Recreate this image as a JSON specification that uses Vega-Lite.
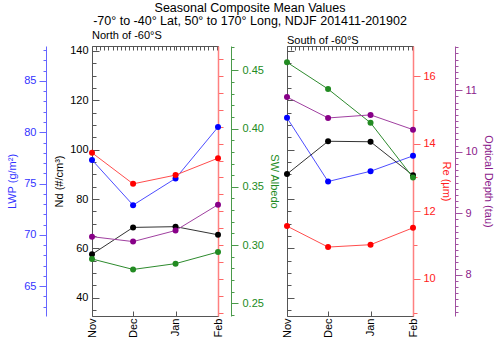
{
  "$schema": "https://vega.github.io/schema/vega-lite/v6.json",
  "padding": {"left": 6, "right": 3, "top": 2, "bottom": 1},
  "background": "white",
  "title": {
    "text": ["Seasonal Composite Mean Values", "-70° to -40° Lat, 50° to 170° Long, NDJF 201411-201902"],
    "fontSize": 12.5,
    "fontWeight": "normal",
    "font": "Liberation Sans",
    "color": "black",
    "anchor": "middle",
    "lineHeight": 13,
    "offset": 2
  },
  "datasets": {
    "north": [
      {"month": "2014-11-01T00:00:00", "lwp": 77.3, "nd": 57.6, "albedo": 0.288, "re": 13.73, "tau": 8.62},
      {"month": "2014-12-01T00:00:00", "lwp": 72.9, "nd": 68.5, "albedo": 0.279, "re": 12.81, "tau": 8.54},
      {"month": "2015-01-01T00:00:00", "lwp": 75.5, "nd": 68.8, "albedo": 0.284, "re": 13.07, "tau": 8.72},
      {"month": "2015-02-01T00:00:00", "lwp": 80.5, "nd": 65.5, "albedo": 0.294, "re": 13.57, "tau": 9.14}
    ],
    "south": [
      {"month": "2014-11-01T00:00:00", "lwp": 81.4, "nd": 90.1, "albedo": 0.457, "re": 11.56, "tau": 10.89},
      {"month": "2014-12-01T00:00:00", "lwp": 75.2, "nd": 103.4, "albedo": 0.434, "re": 10.94, "tau": 10.55},
      {"month": "2015-01-01T00:00:00", "lwp": 76.2, "nd": 103.2, "albedo": 0.405, "re": 11.01, "tau": 10.6},
      {"month": "2015-02-01T00:00:00", "lwp": 77.7, "nd": 89.6, "albedo": 0.358, "re": 11.51, "tau": 10.36}
    ]
  },
  "bounds": "flush",
  "spacing": 69,
  "hconcat": [
    {
      "width": 126,
      "height": 270,
      "data": {"name": "north"},
      "title": {"text": "North of -60°S", "anchor": "start", "frame": "group", "fontSize": 11, "fontWeight": "normal", "offset": 0, "color": "black"},
      "layer": [
        {
          "mark": {"type": "line", "color": "#4d4dff", "strokeWidth": 1, "point": {"filled": true, "size": 36, "color": "#0000ff"}},
          "encoding": {
            "x": {"field": "month", "type": "temporal", "scale": {"nice": false},
              "axis": {"orient": "top", "title": null, "labels": false, "domain": false, "tickCount": {"interval": "day", "step": 3}, "tickSize": -4, "tickColor": "#555", "grid": false}},
            "y": {"field": "lwp", "type": "quantitative", "scale": {"domain": [62.1, 88.4], "nice": false, "zero": false},
              "axis": {"orient": "left", "offset": 46, "title": "LWP (g/m²)", "titleColor": "#3333ff", "titleFontSize": 11, "titlePadding": 6,
                "values": [63,64,65,66,67,68,69,70,71,72,73,74,75,76,77,78,79,80,81,82,83,84,85,86,87,88], "tickCount": 200,
                "labelExpr": "datum.value % 5 == 0 ? datum.label : ''", "format": "d", "labelOverlap": false,
                "tickSize": 7, "tickDash": {"condition": {"test": "datum.value % 5 == 0", "value": []}, "value": [3, 20]},
                "tickColor": "#6666ff", "domainColor": "#6666ff", "labelColor": "#3333ff", "labelPadding": 3, "grid": false}}
          }
        },
        {
          "mark": {"type": "line", "color": "#333333", "strokeWidth": 1, "point": {"filled": true, "size": 36, "color": "black"}},
          "encoding": {
            "x": {"field": "month", "type": "temporal", "scale": {"nice": false},
              "axis": {"orient": "bottom", "title": null, "format": "%b", "tickCount": {"interval": "month"}, "labelAngle": -90, "tickSize": -5, "labelPadding": 7, "domain": false, "tickColor": "#555", "labelColor": "black", "grid": false, "labelOverlap": false}},
            "y": {"field": "nd", "type": "quantitative", "scale": {"domain": [32.6, 142], "nice": false, "zero": false},
              "axis": {"orient": "left", "title": "Nd (#/cm³)", "titleColor": "black", "titleFontSize": 11, "titlePadding": 5,
                "values": [35,40,45,50,55,60,65,70,75,80,85,90,95,100,105,110,115,120,125,130,135,140], "tickCount": 200,
                "labelExpr": "datum.value % 20 == 0 ? datum.label : ''", "format": "d", "labelOverlap": false,
                "tickSize": -7, "tickDash": {"condition": {"test": "datum.value % 20 == 0", "value": []}, "value": [4, 20]},
                "tickColor": "#555", "domain": false, "labelColor": "black", "labelPadding": 11, "grid": false}}
          }
        },
        {
          "mark": {"type": "line", "color": "#2e8b2e", "strokeWidth": 1, "point": {"filled": true, "size": 36, "color": "#228b22"}},
          "encoding": {
            "x": {"field": "month", "type": "temporal", "scale": {"nice": false}, "axis": null},
            "y": {"field": "albedo", "type": "quantitative", "scale": {"domain": [0.239, 0.471], "nice": false, "zero": false},
              "axis": {"orient": "right", "offset": 13, "title": "SW Albedo", "titleColor": "#228b22", "titleFontSize": 11, "titlePadding": 5,
                "values": [0.24,0.25,0.26,0.27,0.28,0.29,0.3,0.31,0.32,0.33,0.34,0.35,0.36,0.37,0.38,0.39,0.4,0.41,0.42,0.43,0.44,0.45,0.46,0.47], "tickCount": 200,
                "labelExpr": "abs(datum.value*20 - round(datum.value*20)) < 0.001 ? datum.label : ''", "format": ".2f", "labelOverlap": false,
                "tickSize": 7, "tickDash": {"condition": {"test": "abs(datum.value*20 - round(datum.value*20)) < 0.001", "value": []}, "value": [3, 20]},
                "tickColor": "#4a9a4a", "domainColor": "#4a9a4a", "labelColor": "#228b22", "labelPadding": 4, "grid": false}}
          }
        },
        {
          "mark": {"type": "line", "color": "#ff4d4d", "strokeWidth": 1, "point": {"filled": true, "size": 36, "color": "#ff0000"}},
          "encoding": {
            "x": {"field": "month", "type": "temporal", "scale": {"nice": false}, "axis": null},
            "y": {"field": "re", "type": "quantitative", "scale": {"domain": [8.9, 16.89], "nice": false, "zero": false},
              "axis": {"orient": "right", "title": null, "labels": false,
                "values": [9,9.5,10,10.5,11,11.5,12,12.5,13,13.5,14,14.5,15,15.5,16,16.5], "tickCount": 200,
                "tickSize": 5, "tickColor": "#ff6666", "domainColor": "#ff8080", "domainWidth": 1.5, "grid": false}}
          }
        },
        {
          "mark": {"type": "line", "color": "#a040a0", "strokeWidth": 1, "point": {"filled": true, "size": 36, "color": "#880088"}},
          "encoding": {
            "x": {"field": "month", "type": "temporal", "scale": {"nice": false}, "axis": null},
            "y": {"field": "tau", "type": "quantitative", "scale": {"domain": [7.33, 11.72], "nice": false, "zero": false}, "axis": null}
          }
        }
      ],
      "resolve": {"scale": {"y": "independent"}, "axis": {"y": "independent", "x": "independent"}}
    },
    {
      "width": 126,
      "height": 270,
      "data": {"name": "south"},
      "title": {"text": "South of -60°S", "anchor": "start", "frame": "group", "fontSize": 11, "fontWeight": "normal", "offset": 0, "color": "black"},
      "layer": [
        {
          "mark": {"type": "line", "color": "#4d4dff", "strokeWidth": 1, "point": {"filled": true, "size": 36, "color": "#0000ff"}},
          "encoding": {
            "x": {"field": "month", "type": "temporal", "scale": {"nice": false},
              "axis": {"orient": "top", "title": null, "labels": false, "domain": false, "tickCount": {"interval": "day", "step": 3}, "tickSize": -4, "tickColor": "#555", "grid": false}},
            "y": {"field": "lwp", "type": "quantitative", "scale": {"domain": [62.1, 88.4], "nice": false, "zero": false}, "axis": null}
          }
        },
        {
          "mark": {"type": "line", "color": "#333333", "strokeWidth": 1, "point": {"filled": true, "size": 36, "color": "black"}},
          "encoding": {
            "x": {"field": "month", "type": "temporal", "scale": {"nice": false},
              "axis": {"orient": "bottom", "title": null, "format": "%b", "tickCount": {"interval": "month"}, "labelAngle": -90, "tickSize": -5, "labelPadding": 7, "domain": false, "tickColor": "#555", "labelColor": "black", "grid": false, "labelOverlap": false}},
            "y": {"field": "nd", "type": "quantitative", "scale": {"domain": [32.6, 142], "nice": false, "zero": false},
              "axis": {"orient": "left", "title": null, "labels": false,
                "values": [35,40,45,50,55,60,65,70,75,80,85,90,95,100,105,110,115,120,125,130,135,140], "tickCount": 200,
                "tickSize": -7, "tickDash": {"condition": {"test": "datum.value % 20 == 0", "value": []}, "value": [4, 20]},
                "tickColor": "#555", "domain": false, "grid": false}}
          }
        },
        {
          "mark": {"type": "line", "color": "#2e8b2e", "strokeWidth": 1, "point": {"filled": true, "size": 36, "color": "#228b22"}},
          "encoding": {
            "x": {"field": "month", "type": "temporal", "scale": {"nice": false}, "axis": null},
            "y": {"field": "albedo", "type": "quantitative", "scale": {"domain": [0.239, 0.471], "nice": false, "zero": false}, "axis": null}
          }
        },
        {
          "mark": {"type": "line", "color": "#ff4d4d", "strokeWidth": 1, "point": {"filled": true, "size": 36, "color": "#ff0000"}},
          "encoding": {
            "x": {"field": "month", "type": "temporal", "scale": {"nice": false}, "axis": null},
            "y": {"field": "re", "type": "quantitative", "scale": {"domain": [8.9, 16.89], "nice": false, "zero": false},
              "axis": {"orient": "right", "title": "Re (µm)", "titleColor": "#ff2020", "titleFontSize": 11, "titlePadding": 5,
                "values": [9,9.5,10,10.5,11,11.5,12,12.5,13,13.5,14,14.5,15,15.5,16,16.5], "tickCount": 200,
                "labelExpr": "datum.value % 2 == 0 ? datum.label : ''", "format": "d", "labelOverlap": false,
                "tickSize": 7, "tickDash": {"condition": {"test": "datum.value % 2 == 0", "value": []}, "value": [4, 20]},
                "tickColor": "#ff6666", "domainColor": "#ff8080", "domainWidth": 1.5, "labelColor": "#ff2020", "labelPadding": 3, "grid": false}}
          }
        },
        {
          "mark": {"type": "line", "color": "#a040a0", "strokeWidth": 1, "point": {"filled": true, "size": 36, "color": "#880088"}},
          "encoding": {
            "x": {"field": "month", "type": "temporal", "scale": {"nice": false}, "axis": null},
            "y": {"field": "tau", "type": "quantitative", "scale": {"domain": [7.33, 11.72], "nice": false, "zero": false},
              "axis": {"orient": "right", "offset": 42, "title": "Optical Depth (tau)", "titleColor": "#8b1a8b", "titleFontSize": 11, "titlePadding": 5,
                "values": [8, 9, 10, 11], "tickCount": 200, "format": "d", "labelOverlap": false,
                "tickSize": 7, "tickColor": "#a050a0", "domainColor": "#a050a0", "labelColor": "#8b1a8b", "labelPadding": 3, "grid": false}}
          }
        },
        {
          "mark": {"type": "line", "strokeOpacity": 0, "strokeWidth": 0},
          "encoding": {
            "x": {"field": "month", "type": "temporal", "scale": {"nice": false}, "axis": null},
            "y": {"field": "tau", "type": "quantitative", "scale": {"domain": [7.33, 11.72], "nice": false, "zero": false},
              "axis": {"orient": "right", "offset": 42, "title": null, "labels": false, "domain": false,
                "values": [7.4,7.5,7.6,7.7,7.8,7.9,8.1,8.2,8.3,8.4,8.5,8.6,8.7,8.8,8.9,9.1,9.2,9.3,9.4,9.5,9.6,9.7,9.8,9.9,10.1,10.2,10.3,10.4,10.5,10.6,10.7,10.8,10.9,11.1,11.2,11.3,11.4,11.5,11.6,11.7], "tickCount": 200, "labelOverlap": false,
                "tickSize": 3, "tickColor": "#a050a0", "grid": false}}
          }
        }
      ],
      "resolve": {"scale": {"y": "independent"}, "axis": {"y": "independent", "x": "independent"}}
    }
  ],
  "config": {
    "font": "Liberation Sans",
    "view": {"stroke": "#555555", "strokeWidth": 1},
    "axis": {"labelFontSize": 11, "labelFont": "Liberation Sans", "titleFont": "Liberation Sans", "titleFontWeight": "normal", "labelOverlap": false, "labelBound": false, "labelFlush": false},
    "line": {"strokeWidth": 1}
  }
}
